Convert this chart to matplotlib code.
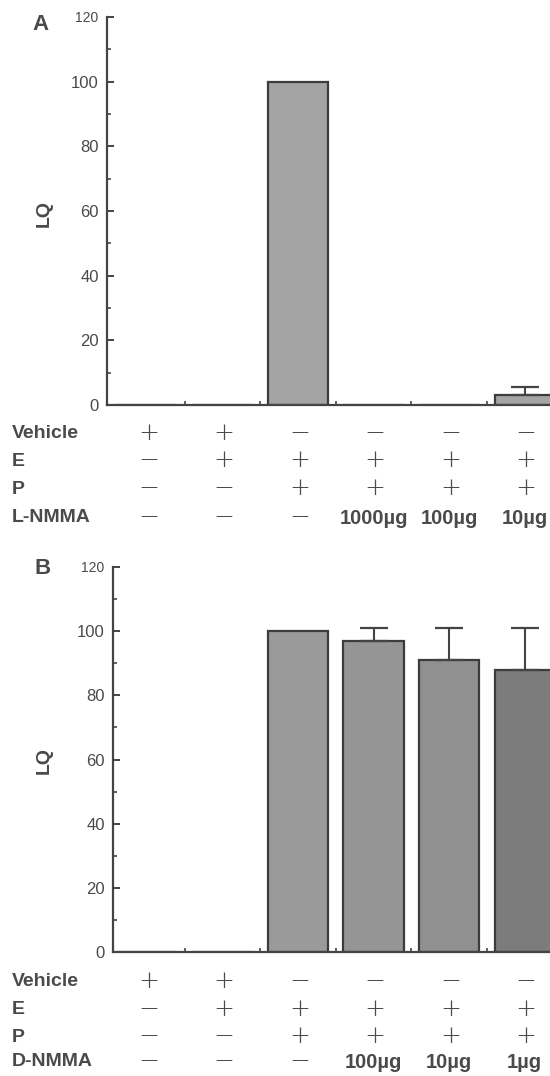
import matplotlib
matplotlib.use("Agg")
import matplotlib.pyplot as plt
import matplotlib.transforms as mtransforms
import numpy as np

plt.rcParams["font.family"] = ["Liberation Sans", "DejaVu Sans"]

# ---- data ----
groups = [0, 1, 2, 3, 4, 5]
lq_a = [0, 0, 100, 0, 0, 3]
err_a = [0, 0, 0, 0, 0, 2.5]
lq_b = [0, 0, 100, 97, 91, 88]
err_b = [0, 0, 0, 4, 10, 13]

vehicle_row = ["+", "+", "\u2212", "\u2212", "\u2212", "\u2212"]
e_row = ["\u2212", "+", "+", "+", "+", "+"]
p_row = ["\u2212", "\u2212", "+", "+", "+", "+"]
lnmma_row = ["\u2212", "\u2212", "\u2212", "1000\u00b5g", "100\u00b5g", "10\u00b5g"]
dnmma_row = ["\u2212", "\u2212", "\u2212", "100\u00b5g", "10\u00b5g", "1\u00b5g"]
yticks = [0, 20, 40, 60, 80, 100, 120]

colors_a = ["#a4a4a4"] * 6
colors_b = ["#9e9e9e", "#9e9e9e", "#9a9a9a", "#959595", "#909090", "#7c7c7c"]

INK = "#4a4a4a"
W, H = 550, 1076
fig = plt.figure(figsize=(W / 100, H / 100), dpi=100)


def fy(py):
    return 1 - py / H


def make_panel(left_px, top_px, bottom_px, xleft, vals, errs, cols, letter,
               letter_xy, rows, row_names, row_y, lq_y):
    ax = fig.add_axes([left_px / W, fy(bottom_px), (W - left_px) / W + 0.02,
                       fy(top_px) - fy(bottom_px)])
    ax.set_xlim(xleft, 5.48)
    ax.set_ylim(0, 120)
    ax.bar(groups, vals, width=0.8, color=cols, edgecolor="#3c3c3c",
           linewidth=1.6, zorder=2)
    for x, v, e in zip(groups, vals, errs):
        if e > 0:
            ax.errorbar([x], [v], yerr=[[0], [e]], fmt="none", ecolor="#444444",
                        elinewidth=1.5, capsize=10, capthick=1.6, zorder=3)
    for s in ["top", "right"]:
        ax.spines[s].set_visible(False)
    for s in ["left", "bottom"]:
        ax.spines[s].set_linewidth(1.6)
        ax.spines[s].set_color("#444444")
    ax.set_yticks(yticks)
    ax.set_yticklabels([str(t) for t in yticks])
    ax.set_yticks(np.arange(10, 120, 20), minor=True)
    ax.tick_params(axis="y", which="major", direction="in", length=5, width=1.4,
                   colors="#444444", labelcolor=INK, labelsize=12, pad=6)
    ax.tick_params(axis="y", which="minor", direction="in", length=3, width=1.2,
                   colors="#444444")
    ax.get_yticklabels()[-1].set_fontsize(10)
    ax.set_xticks([0.5, 1.5, 2.5, 3.5, 4.5])
    ax.set_xticklabels([])
    ax.tick_params(axis="x", direction="in", length=3, width=1.2, colors="#444444")
    ax.patch.set_alpha(0)
    # y label
    fig.text(44 / W, fy(lq_y), "LQ", rotation=90, fontsize=14,
             fontweight="bold", color=INK, ha="center", va="center")
    # panel letter
    fig.text(letter_xy[0] / W, fy(letter_xy[1]), letter, fontsize=16,
             fontweight="bold", color=INK, ha="left", va="center")
    # condition rows
    tr = mtransforms.blended_transform_factory(ax.transData, fig.transFigure)
    for name, row, yp in zip(row_names, rows, row_y):
        fig.text(12 / W, fy(yp + 1), name, fontsize=14, fontweight="bold",
                 color=INK, ha="left", va="center")
        for x, s in zip(groups, row):
            if s in ("+", "\u2212"):
                ax.text(x + 0.02, fy(yp), s, transform=tr, fontsize=18, color=INK,
                        ha="center", va="center", family="DejaVu Sans",
                        fontweight="light")
            else:
                ax.text(x, fy(yp + 1), s, transform=tr, fontsize=14.5, color=INK,
                        ha="center", va="center", fontweight="bold")
    return ax


make_panel(107, 17, 405, -0.53, lq_a, err_a, colors_a, "A", (32, 24),
           [vehicle_row, e_row, p_row, lnmma_row],
           ["Vehicle", "E", "P", "L-NMMA"], [433, 460, 488, 517], 213)
make_panel(113, 567, 952, -0.45, lq_b, err_b, colors_b, "B", (35, 569),
           [vehicle_row, e_row, p_row, dnmma_row],
           ["Vehicle", "E", "P", "D-NMMA"], [981, 1009, 1036, 1061], 760)

fig.savefig("out.png", dpi=100)
